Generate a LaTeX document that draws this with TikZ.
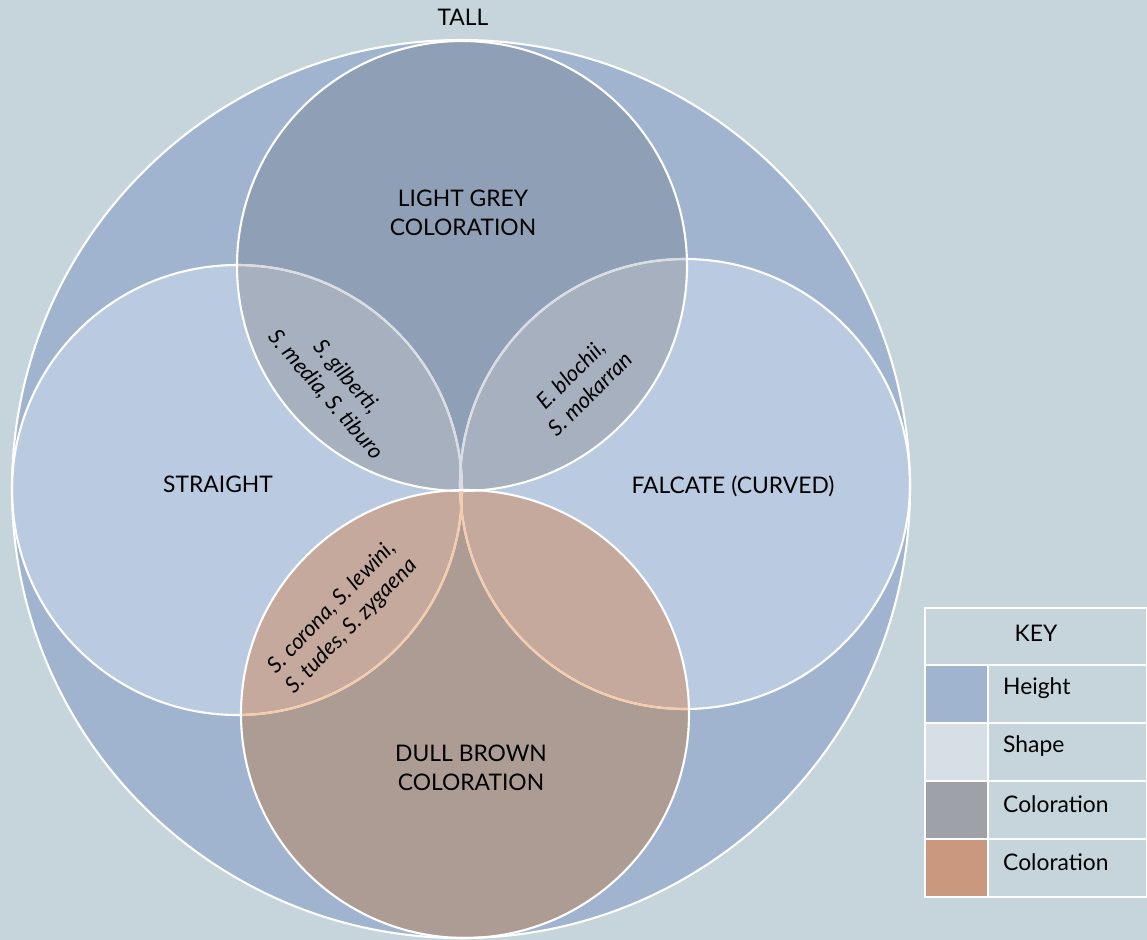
\documentclass[tikz,border=0pt]{standalone}
\usepackage{fontspec}
\setmainfont{Lato}

\definecolor{bgcol}{HTML}{C6D4DB}
\definecolor{tallcol}{HTML}{A0B4CF}
\definecolor{shapecol}{HTML}{BACAE0}
\definecolor{greycol}{HTML}{8F9FB6}
\definecolor{greylens}{HTML}{A6B0BF}
\definecolor{browncol}{HTML}{AD9C93}
\definecolor{brownlens}{HTML}{C4A99C}
\definecolor{peach}{HTML}{F5CBA8}
\definecolor{greyline}{HTML}{D9DDE3}
\definecolor{keyshape}{HTML}{D6DFE5}
\definecolor{keygrey}{HTML}{9EA1A7}
\definecolor{keybrown}{HTML}{C9987E}

\begin{document}
\begin{tikzpicture}[x=0.02cm,y=0.02cm,
    edge/.style={draw=white,line width=1.2pt},
    lbl/.style={font=\fontsize{13}{16.5}\selectfont,align=center,text=black},
    spp/.style={font=\itshape\fontsize{12.5}{15.5}\selectfont,align=center,text=black},
    keycell/.style={draw=white,line width=1.2pt}]
    \fill[bgcol](0,0)rectangle(1147,-940);
    \useasboundingbox(0,0)rectangle(1147,-940);

    \coordinate(tall)at(461,-489);
    \coordinate(straight)at(237,-490);
    \coordinate(falcate)at(685,-484);
    \coordinate(grey)at(462,-266);
    \coordinate(brown)at(465,-714);

    % circles
    \fill[tallcol](tall)circle[radius=449];
    \fill[shapecol](straight)circle[radius=225];
    \fill[shapecol](falcate)circle[radius=225];
    \fill[greycol](grey)circle[radius=225];
    \fill[browncol](brown)circle[radius=224];

    % overlaps
    \begin{scope}
        \clip(grey)circle[radius=225];
        \fill[greylens](straight)circle[radius=225];
        \fill[greylens](falcate)circle[radius=225];
    \end{scope}
    \begin{scope}
        \clip(brown)circle[radius=224];
        \fill[brownlens](straight)circle[radius=225];
        \fill[brownlens](falcate)circle[radius=225];
    \end{scope}

    % outlines
    \draw[edge](tall)circle[radius=449];
    \draw[edge](straight)circle[radius=225];
    \draw[edge](falcate)circle[radius=225];
    \begin{scope}
        \clip(grey)circle[radius=225];
        \draw[edge,draw=greyline](straight)circle[radius=225];
        \draw[edge,draw=greyline](falcate)circle[radius=225];
    \end{scope}
    \draw[edge](grey)circle[radius=225];
    \begin{scope}
        \clip(brown)circle[radius=224];
        \draw[edge,draw=peach](straight)circle[radius=225];
        \draw[edge,draw=peach](falcate)circle[radius=225];
        \draw[edge,draw=peach](tall)circle[radius=449];
    \end{scope}
    \draw[edge](brown)circle[radius=224];

    % labels
    \node[lbl](talllbl)at(463,-17){TALL};
    \node[lbl](greylbl)at(463,-213){LIGHT GREY\\COLORATION};
    \node[lbl](straightlbl)at(218,-484){STRAIGHT};
    \node[lbl](falcatelbl)at(733,-486){FALCATE (CURVED)};
    \node[lbl](brownlbl)at(471,-768){DULL BROWN\\COLORATION};

    \node[spp,rotate=-49](sppleft)at(336,-386){S. gilberti,\\S. media, S. tiburo};
    \node[spp,rotate=45](sppright)at(580,-384){E. blochii,\\S. mokarran};
    \node[spp,rotate=46](sppbottom)at(342,-617){S. corona, S. lewini,\\S. tudes, S. zygaena};

    % key
    \draw[keycell,fill=bgcol](925,-608)rectangle(1147,-665);
    \node[lbl](keylbl)at(1036,-633){KEY};
    \foreach \i/\c/\t in {0/tallcol/Height,1/keyshape/Shape,2/keygrey/Coloration,3/keybrown/Coloration}{
        \draw[keycell,fill=\c](925,-665-58*\i)rectangle(988,-723-58*\i);
        \draw[keycell,fill=bgcol](988,-665-58*\i)rectangle(1147,-723-58*\i);
        \node[lbl,anchor=west](key\i)at(997,-688-58*\i){\t};
    }
\end{tikzpicture}
\end{document}
